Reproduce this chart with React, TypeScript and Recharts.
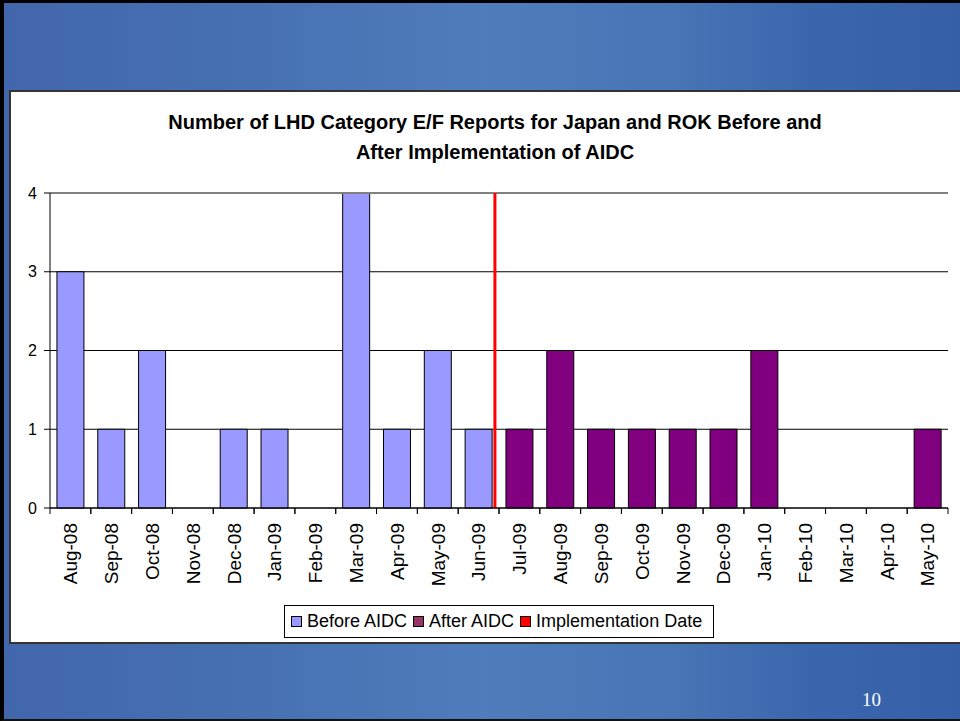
import React from 'react';
import { BarChart, Bar, XAxis, YAxis, CartesianGrid, ReferenceLine } from 'recharts';

const months = ['Aug-08', 'Sep-08', 'Oct-08', 'Nov-08', 'Dec-08', 'Jan-09', 'Feb-09', 'Mar-09', 'Apr-09', 'May-09', 'Jun-09', 'Jul-09', 'Aug-09', 'Sep-09', 'Oct-09', 'Nov-09', 'Dec-09', 'Jan-10', 'Feb-10', 'Mar-10', 'Apr-10', 'May-10'];
const beforeAIDC: (number | null)[] = [3, 1, 2, 0, 1, 1, 0, 4, 1, 2, 1, null, null, null, null, null, null, null, null, null, null, null];
const afterAIDC: (number | null)[] = [null, null, null, null, null, null, null, null, null, null, null, 1, 2, 1, 1, 1, 1, 2, 0, 0, 0, 1];
const yTicks = [0, 1, 2, 3, 4];
// implementation date marker: late in the Jun-09 category (fraction of that month)
const implementationMonth = 'Jun-09';
const implementationFraction = 0.9;
const titleLines = ['Number of LHD Category E/F Reports for Japan and ROK Before and', 'After Implementation of AIDC'];
const legendItems = [
  { label: 'Before AIDC', color: '#9999FF' },
  { label: 'After AIDC', color: '#993366' },
  { label: 'Implementation Date', color: '#FF0000' },
];

const data = months.map((m, i) => ({ month: m, before: beforeAIDC[i], after: afterAIDC[i] }));

const FONT = '"Liberation Sans", Arial, sans-serif';
const BAND = 898 / months.length;

const XTick = (props: any) => {
  const { x, y, payload } = props;
  const half = (payload && payload.offset) ? payload.offset : BAND / 2;
  const axisY = 508;
  return (
    <g>
      <line x1={x - half} y1={axisY} x2={x - half} y2={axisY + 6} stroke="#000" />
      <line x1={x + half} y1={axisY} x2={x + half} y2={axisY + 6} stroke="#000" />
      <text
        x={x}
        y={y}
        transform={`rotate(-90, ${x}, ${y})`}
        textAnchor="end"
        dy="0.36em"
        fontSize={19}
        fontFamily={FONT}
        fill="#000"
      >
        {payload.value}
      </text>
    </g>
  );
};

const ImplLine = (p: any) => {
  const off = implementationFraction * BAND;
  return <line x1={p.x1 + off} y1={p.y1} x2={p.x2 + off} y2={p.y2} stroke="#FF0000" strokeWidth={3} />;
};

export default function App() {
  return (
    <div style={{ position: 'absolute', left: 0, top: 0, width: 960, height: 721, overflow: 'hidden', fontFamily: FONT }}>
      <div
        style={{
          position: 'absolute', left: 0, top: 0, width: 960, height: 721, boxSizing: 'border-box',
          borderLeft: '4px solid #000', borderTop: '3px solid #000', borderBottom: '2px solid #111',
          background: 'linear-gradient(90deg, #4266ac 0%, #4670b2 25%, #4f7cbb 50%, #4875b5 70%, #3a66ad 85%, #3560a8 100%)',
        }}
      />
      <div
        style={{
          position: 'absolute', left: 9, top: 90, width: 960, height: 554, boxSizing: 'border-box',
          background: '#fff', borderLeft: '2px solid #333', borderTop: '2px solid #333', borderBottom: '2px solid #333',
        }}
      />
      <div
        style={{
          position: 'absolute', left: 95, top: 107, width: 800, textAlign: 'center',
          fontWeight: 'bold', fontSize: 20, lineHeight: '30px', color: '#000', fontFamily: FONT,
        }}
      >
        {titleLines[0]}
        <br />
        {titleLines[1]}
      </div>
      <div style={{ position: 'absolute', left: 0, top: 0 }}>
        <BarChart
          width={960}
          height={721}
          data={data}
          margin={{ top: 193, right: 12, bottom: 113, left: 0 }}
          barCategoryGap="17%"
        >
          <CartesianGrid horizontal vertical={false} stroke="#000" strokeOpacity={1} />
          <XAxis
            dataKey="month"
            interval={0}
            height={100}
            tickLine={false}
            tickSize={6}
            tickMargin={9}
            axisLine={{ stroke: '#000' }}
            tick={<XTick />}
          />
          <YAxis
            width={50}
            domain={[0, 4]}
            ticks={yTicks}
            interval={0}
            tickSize={6}
            tickMargin={7}
            axisLine={{ stroke: '#000' }}
            tickLine={{ stroke: '#000' }}
            tick={{ fontSize: 16, fill: '#000', fontFamily: FONT }}
          />
          <Bar dataKey="before" stackId="a" fill="#9999FF" stroke="#000" strokeWidth={1} isAnimationActive={false} />
          <Bar dataKey="after" stackId="a" fill="#800080" stroke="#000" strokeWidth={1} isAnimationActive={false} />
          <ReferenceLine y={4} stroke="#808080" strokeWidth={2} />
          <ReferenceLine x={months[months.length - 1]} position="end" stroke="#999" strokeWidth={2} />
          <ReferenceLine x={implementationMonth} position="start" stroke="#FF0000" strokeWidth={3} shape={ImplLine} />
        </BarChart>
      </div>
      <div
        style={{
          position: 'absolute', left: 284, top: 605, width: 430, height: 33, boxSizing: 'border-box',
          border: '1px solid #000', background: '#fff', display: 'flex', alignItems: 'center',
          paddingLeft: 6, fontSize: 18, fontFamily: FONT, color: '#000', whiteSpace: 'nowrap',
        }}
      >
        {legendItems.map((it) => (
          <span key={it.label} style={{ display: 'inline-flex', alignItems: 'center', marginRight: 6 }}>
            <span style={{ display: 'inline-block', width: 9, height: 9, background: it.color, border: '1px solid #000', marginRight: 5 }} />
            {it.label}
          </span>
        ))}
      </div>
      <div style={{ position: 'absolute', left: 862, top: 689, fontSize: 19, color: '#fff', fontFamily: '"Liberation Serif", "Times New Roman", serif' }}>10</div>
    </div>
  );
}
